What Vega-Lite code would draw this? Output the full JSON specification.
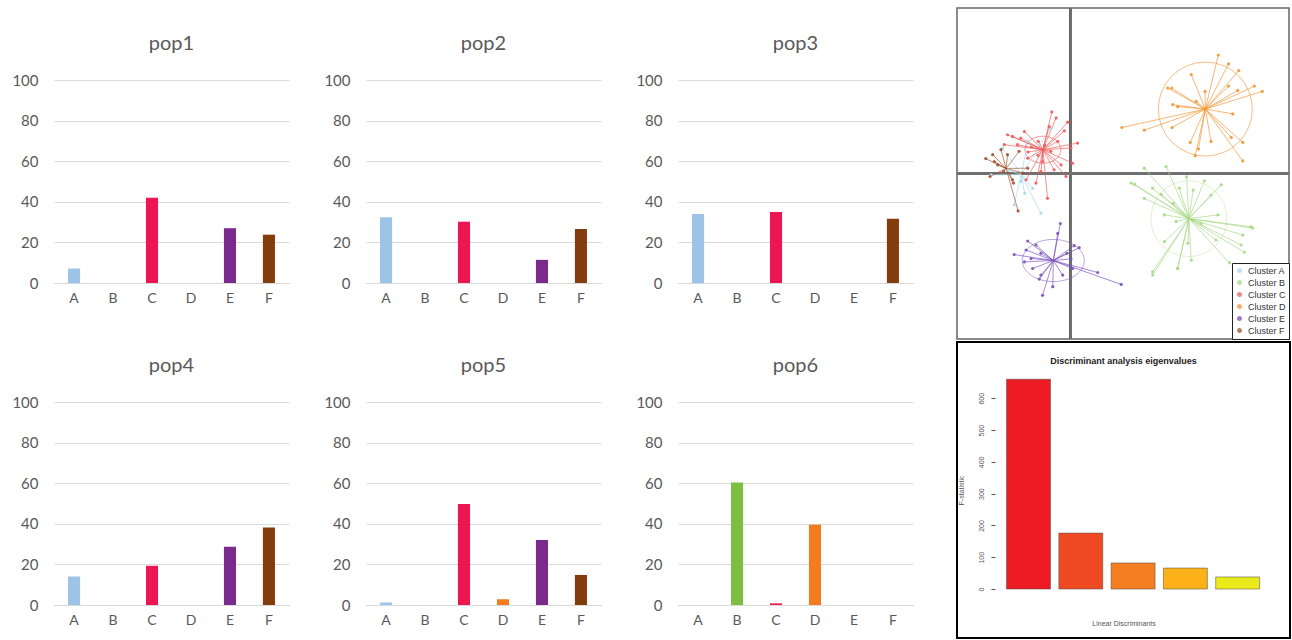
{
  "$schema": "https://vega.github.io/schema/vega-lite/v6.json",
  "background": "white",
  "padding": {"left": 11, "top": 2, "right": 0, "bottom": 0},
  "config": {
    "view": {"stroke": null},
    "font": "Lato",
    "title": {"fontSize": 20, "color": "#595959", "fontWeight": "normal", "font": "Lato", "offset": 19},
    "axisX": {"title": null, "labelAngle": 0, "labelFontSize": 14, "labelColor": "#595959", "ticks": false, "domainColor": "#d9d9d9", "labelPadding": 8},
    "axisY": {"title": null, "labelFontSize": 15, "labelColor": "#595959", "ticks": false, "domain": false, "gridColor": "#d9d9d9", "labelPadding": 16},
    "range": {"category": ["#9dc3e6", "#7cbf42", "#ed1651", "#f37b20", "#7a2a8c", "#833c0b"]}
  },
  "datasets": {
    "pops": [
      {"pop": "pop1", "cl": "A", "v": 7.2}, {"pop": "pop1", "cl": "B", "v": 0}, {"pop": "pop1", "cl": "C", "v": 42}, {"pop": "pop1", "cl": "D", "v": 0}, {"pop": "pop1", "cl": "E", "v": 27}, {"pop": "pop1", "cl": "F", "v": 23.8},
      {"pop": "pop2", "cl": "A", "v": 32.4}, {"pop": "pop2", "cl": "B", "v": 0}, {"pop": "pop2", "cl": "C", "v": 30.2}, {"pop": "pop2", "cl": "D", "v": 0}, {"pop": "pop2", "cl": "E", "v": 11.4}, {"pop": "pop2", "cl": "F", "v": 26.6},
      {"pop": "pop3", "cl": "A", "v": 34}, {"pop": "pop3", "cl": "B", "v": 0}, {"pop": "pop3", "cl": "C", "v": 35}, {"pop": "pop3", "cl": "D", "v": 0}, {"pop": "pop3", "cl": "E", "v": 0}, {"pop": "pop3", "cl": "F", "v": 31.7},
      {"pop": "pop4", "cl": "A", "v": 14}, {"pop": "pop4", "cl": "B", "v": 0}, {"pop": "pop4", "cl": "C", "v": 19.3}, {"pop": "pop4", "cl": "D", "v": 0}, {"pop": "pop4", "cl": "E", "v": 28.7}, {"pop": "pop4", "cl": "F", "v": 38.2},
      {"pop": "pop5", "cl": "A", "v": 1.2}, {"pop": "pop5", "cl": "B", "v": 0}, {"pop": "pop5", "cl": "C", "v": 49.7}, {"pop": "pop5", "cl": "D", "v": 2.8}, {"pop": "pop5", "cl": "E", "v": 32}, {"pop": "pop5", "cl": "F", "v": 14.8},
      {"pop": "pop6", "cl": "A", "v": 0}, {"pop": "pop6", "cl": "B", "v": 60.4}, {"pop": "pop6", "cl": "C", "v": 0.8}, {"pop": "pop6", "cl": "D", "v": 39.5}, {"pop": "pop6", "cl": "E", "v": 0}, {"pop": "pop6", "cl": "F", "v": 0}
    ],
    "pts": [
      {"cl": "A", "x": -1.72, "y": -0.95}, {"cl": "A", "x": -0.91, "y": -1.2}, {"cl": "A", "x": -2.07, "y": 0.77}, {"cl": "A", "x": -2.42, "y": -0.04}, {"cl": "A", "x": -1.31, "y": 0.97}, {"cl": "A", "x": -0.61, "y": 1.37}, {"cl": "A", "x": -1.52, "y": -0.24}, {"cl": "A", "x": -1.16, "y": -0.45}, {"cl": "A", "x": -1.9, "y": 0.1}, {"cl": "A", "x": -1.4, "y": -0.6},
      {"cl": "B", "x": 2.22, "y": 0.16}, {"cl": "B", "x": 2.88, "y": 0.21}, {"cl": "B", "x": 1.92, "y": -0.32}, {"cl": "B", "x": 2.47, "y": -0.44}, {"cl": "B", "x": 2.73, "y": -0.63}, {"cl": "B", "x": 3.28, "y": -0.44}, {"cl": "B", "x": 4.04, "y": -0.22}, {"cl": "B", "x": 4.55, "y": -0.34}, {"cl": "B", "x": 4.24, "y": -0.65}, {"cl": "B", "x": 2.83, "y": -1.25}, {"cl": "B", "x": 3.18, "y": -1.45}, {"cl": "B", "x": 3.94, "y": -1.51}, {"cl": "B", "x": 4.45, "y": -1.25}, {"cl": "B", "x": 5.45, "y": -1.61}, {"cl": "B", "x": 5.2, "y": -1.86}, {"cl": "B", "x": 5.15, "y": -2.16}, {"cl": "B", "x": 5.25, "y": -2.38}, {"cl": "B", "x": 4.39, "y": -2.01}, {"cl": "B", "x": 3.64, "y": -2.62}, {"cl": "B", "x": 3.23, "y": -2.87}, {"cl": "B", "x": 2.47, "y": -2.97}, {"cl": "B", "x": 2.83, "y": -2.06}, {"cl": "B", "x": 3.54, "y": -2.11}, {"cl": "B", "x": 2.22, "y": -0.75}, {"cl": "B", "x": 1.82, "y": -0.29}, {"cl": "B", "x": 2.47, "y": -3.07}, {"cl": "B", "x": 3.23, "y": -2.87}, {"cl": "B", "x": 5.5, "y": -1.65}, {"cl": "B", "x": 3.5, "y": -0.1}, {"cl": "B", "x": 3.7, "y": -0.5}, {"cl": "B", "x": 3.1, "y": -0.9}, {"cl": "B", "x": 4.8, "y": -2.7},
      {"cl": "C", "x": -0.58, "y": 1.86}, {"cl": "C", "x": -0.45, "y": 1.68}, {"cl": "C", "x": -0.1, "y": 1.55}, {"cl": "C", "x": -0.66, "y": 1.42}, {"cl": "C", "x": -0.2, "y": 1.29}, {"cl": "C", "x": -1.92, "y": 1.17}, {"cl": "C", "x": -1.77, "y": 1.12}, {"cl": "C", "x": -1.52, "y": 1.07}, {"cl": "C", "x": 0.2, "y": 0.92}, {"cl": "C", "x": 0.0, "y": 0.77}, {"cl": "C", "x": -0.61, "y": 0.67}, {"cl": "C", "x": 0.05, "y": 0.31}, {"cl": "C", "x": -0.3, "y": 0.26}, {"cl": "C", "x": -0.15, "y": -0.09}, {"cl": "C", "x": -0.91, "y": 0.06}, {"cl": "C", "x": -0.71, "y": -0.75}, {"cl": "C", "x": -1.06, "y": -0.29}, {"cl": "C", "x": -1.36, "y": -0.19}, {"cl": "C", "x": -1.62, "y": 0.87}, {"cl": "C", "x": -0.99, "y": 0.97}, {"cl": "C", "x": -0.4, "y": 0.97}, {"cl": "C", "x": -0.86, "y": 0.36}, {"cl": "C", "x": -1.31, "y": 0.46}, {"cl": "C", "x": -2.02, "y": 0.87}, {"cl": "C", "x": -0.51, "y": 0.11}, {"cl": "C", "x": -1.41, "y": 1.27}, {"cl": "C", "x": -1.2, "y": 0.8}, {"cl": "C", "x": -1.0, "y": 0.55}, {"cl": "C", "x": -1.3, "y": 0.65}, {"cl": "C", "x": -0.8, "y": 0.85},
      {"cl": "D", "x": 4.46, "y": 3.58}, {"cl": "D", "x": 4.77, "y": 3.31}, {"cl": "D", "x": 5.08, "y": 3.11}, {"cl": "D", "x": 3.64, "y": 2.99}, {"cl": "D", "x": 5.55, "y": 2.64}, {"cl": "D", "x": 5.79, "y": 2.48}, {"cl": "D", "x": 5.05, "y": 2.51}, {"cl": "D", "x": 4.77, "y": 2.64}, {"cl": "D", "x": 2.93, "y": 2.58}, {"cl": "D", "x": 3.05, "y": 2.58}, {"cl": "D", "x": 4.06, "y": 2.48}, {"cl": "D", "x": 3.08, "y": 2.08}, {"cl": "D", "x": 3.23, "y": 2.02}, {"cl": "D", "x": 3.79, "y": 2.18}, {"cl": "D", "x": 4.9, "y": 1.8}, {"cl": "D", "x": 1.54, "y": 1.39}, {"cl": "D", "x": 2.22, "y": 1.31}, {"cl": "D", "x": 3.06, "y": 1.39}, {"cl": "D", "x": 4.85, "y": 1.09}, {"cl": "D", "x": 5.2, "y": 0.94}, {"cl": "D", "x": 3.61, "y": 0.94}, {"cl": "D", "x": 3.86, "y": 0.74}, {"cl": "D", "x": 3.76, "y": 0.54}, {"cl": "D", "x": 5.2, "y": 0.38}, {"cl": "D", "x": 4.24, "y": 0.97},
      {"cl": "E", "x": -0.32, "y": -1.51}, {"cl": "E", "x": -0.4, "y": -1.81}, {"cl": "E", "x": -1.31, "y": -2.04}, {"cl": "E", "x": -1.06, "y": -2.16}, {"cl": "E", "x": -1.72, "y": -2.45}, {"cl": "E", "x": -1.36, "y": -2.31}, {"cl": "E", "x": -0.91, "y": -2.41}, {"cl": "E", "x": 0.1, "y": -2.18}, {"cl": "E", "x": 0.25, "y": -2.24}, {"cl": "E", "x": -0.12, "y": -2.41}, {"cl": "E", "x": 0.0, "y": -2.58}, {"cl": "E", "x": -1.41, "y": -2.67}, {"cl": "E", "x": -1.16, "y": -2.87}, {"cl": "E", "x": -0.91, "y": -3.07}, {"cl": "E", "x": -0.96, "y": -3.19}, {"cl": "E", "x": -0.55, "y": -3.42}, {"cl": "E", "x": -0.86, "y": -3.68}, {"cl": "E", "x": -0.25, "y": -3.07}, {"cl": "E", "x": 0.05, "y": -2.87}, {"cl": "E", "x": 1.52, "y": -3.35}, {"cl": "E", "x": 0.81, "y": -2.99}, {"cl": "E", "x": -1.21, "y": -2.57},
      {"cl": "F", "x": -2.58, "y": 0.45}, {"cl": "F", "x": -2.37, "y": 0.57}, {"cl": "F", "x": -2.45, "y": -0.09}, {"cl": "F", "x": -2.12, "y": 0.72}, {"cl": "F", "x": -2.04, "y": 0.06}, {"cl": "F", "x": -1.77, "y": -0.19}, {"cl": "F", "x": -1.74, "y": -0.29}, {"cl": "F", "x": -1.6, "y": -1.13}, {"cl": "F", "x": -2.22, "y": 0.26}, {"cl": "F", "x": -1.31, "y": 0.16}, {"cl": "F", "x": -1.92, "y": 0.57}, {"cl": "F", "x": -1.57, "y": 0.67}, {"cl": "F", "x": -2.32, "y": 0.36}, {"cl": "F", "x": -1.46, "y": 0.01}
    ],
    "eig": [
      {"ld": "1", "f": 660}, {"ld": "2", "f": 176}, {"ld": "3", "f": 82}, {"ld": "4", "f": 66}, {"ld": "5", "f": 38}
    ]
  },
  "resolve": {"scale": {"color": "independent"}},
  "spacing": 42,
  "hconcat": [
    {
      "data": {"name": "pops"},
      "spacing": 20,
      "vconcat": [
        {"width": 10, "height": 1, "mark": {"type": "text", "text": ""}},
        {
          "spacing": 51,
          "vconcat": [
            {
              "spacing": 34,
              "hconcat": [
                {"width": 235, "height": 203, "title": "pop1", "transform": [{"filter": "datum.pop == 'pop1'"}], "mark": "bar",
                 "encoding": {"x": {"field": "cl", "type": "nominal", "scale": {"paddingInner": 0.69, "paddingOuter": 0.36}}, "y": {"field": "v", "type": "quantitative", "scale": {"domain": [0, 100]}, "axis": {"values": [0, 20, 40, 60, 80, 100]}}, "color": {"field": "cl", "type": "nominal", "legend": null}}},
                {"width": 235, "height": 203, "title": "pop2", "transform": [{"filter": "datum.pop == 'pop2'"}], "mark": "bar",
                 "encoding": {"x": {"field": "cl", "type": "nominal", "scale": {"paddingInner": 0.69, "paddingOuter": 0.36}}, "y": {"field": "v", "type": "quantitative", "scale": {"domain": [0, 100]}, "axis": {"values": [0, 20, 40, 60, 80, 100]}}, "color": {"field": "cl", "type": "nominal", "legend": null}}},
                {"width": 235, "height": 203, "title": "pop3", "transform": [{"filter": "datum.pop == 'pop3'"}], "mark": "bar",
                 "encoding": {"x": {"field": "cl", "type": "nominal", "scale": {"paddingInner": 0.69, "paddingOuter": 0.36}}, "y": {"field": "v", "type": "quantitative", "scale": {"domain": [0, 100]}, "axis": {"values": [0, 20, 40, 60, 80, 100]}}, "color": {"field": "cl", "type": "nominal", "legend": null}}}
              ]
            },
            {
              "spacing": 34,
              "hconcat": [
                {"width": 235, "height": 203, "title": "pop4", "transform": [{"filter": "datum.pop == 'pop4'"}], "mark": "bar",
                 "encoding": {"x": {"field": "cl", "type": "nominal", "scale": {"paddingInner": 0.69, "paddingOuter": 0.36}}, "y": {"field": "v", "type": "quantitative", "scale": {"domain": [0, 100]}, "axis": {"values": [0, 20, 40, 60, 80, 100]}}, "color": {"field": "cl", "type": "nominal", "legend": null}}},
                {"width": 235, "height": 203, "title": "pop5", "transform": [{"filter": "datum.pop == 'pop5'"}], "mark": "bar",
                 "encoding": {"x": {"field": "cl", "type": "nominal", "scale": {"paddingInner": 0.69, "paddingOuter": 0.36}}, "y": {"field": "v", "type": "quantitative", "scale": {"domain": [0, 100]}, "axis": {"values": [0, 20, 40, 60, 80, 100]}}, "color": {"field": "cl", "type": "nominal", "legend": null}}},
                {"width": 235, "height": 203, "title": "pop6", "transform": [{"filter": "datum.pop == 'pop6'"}], "mark": "bar",
                 "encoding": {"x": {"field": "cl", "type": "nominal", "scale": {"paddingInner": 0.69, "paddingOuter": 0.36}}, "y": {"field": "v", "type": "quantitative", "scale": {"domain": [0, 100]}, "axis": {"values": [0, 20, 40, 60, 80, 100]}}, "color": {"field": "cl", "type": "nominal", "legend": null}}}
              ]
            }
          ]
        }
      ]
    },
    {
      "spacing": 0,
      "resolve": {"scale": {"color": "independent"}},
      "vconcat": [
        {
          "width": 332,
          "height": 331,
          "view": {"stroke": "#666666", "strokeWidth": 1.5},
          "data": {"name": "pts"},
          "layer": [
            {
              "mark": {"type": "rule", "color": "#707070", "strokeWidth": 2},
              "encoding": {"x": {"datum": 0, "type": "quantitative"}}
            },
            {
              "mark": {"type": "rule", "color": "#707070", "strokeWidth": 2},
              "encoding": {"y": {"datum": 0, "type": "quantitative"}}
            },
            {
              "transform": [{"filter": "datum.cl == 'D'"}, {"aggregate": [{"op": "mean", "field": "x", "as": "cx"}, {"op": "mean", "field": "y", "as": "cy"}], "groupby": ["cl"]}],
              "mark": {"type": "point", "shape": "circle", "filled": false, "size": 8836, "strokeWidth": 1, "opacity": 0.6, "color": "#f39331"},
              "encoding": {"x": {"field": "cx", "type": "quantitative"}, "y": {"field": "cy", "type": "quantitative"}}
            },
            {
              "transform": [{"filter": "datum.cl == 'B'"}, {"aggregate": [{"op": "mean", "field": "x", "as": "cx"}, {"op": "mean", "field": "y", "as": "cy"}], "groupby": ["cl"]}],
              "mark": {"type": "point", "shape": "circle", "filled": false, "size": 5776, "strokeWidth": 1, "opacity": 0.5, "color": "#c9e3a0"},
              "encoding": {"x": {"field": "cx", "type": "quantitative"}, "y": {"field": "cy", "type": "quantitative"}}
            },
            {
              "transform": [{"filter": "datum.cl == 'C'"}, {"aggregate": [{"op": "mean", "field": "x", "as": "cx"}, {"op": "mean", "field": "y", "as": "cy"}], "groupby": ["cl"]}],
              "mark": {"type": "point", "shape": "M -1 0 A 1 0.75 0 1 1 1 0 A 1 0.75 0 1 1 -1 0 Z", "filled": false, "size": 1300, "strokeWidth": 1, "opacity": 0.6, "color": "#f05a5a"},
              "encoding": {"x": {"field": "cx", "type": "quantitative"}, "y": {"field": "cy", "type": "quantitative"}}
            },
            {
              "transform": [{"filter": "datum.cl == 'E'"}, {"aggregate": [{"op": "mean", "field": "x", "as": "cx"}, {"op": "mean", "field": "y", "as": "cy"}], "groupby": ["cl"]}],
              "mark": {"type": "point", "shape": "M -1 0 A 1 0.68 0 1 1 1 0 A 1 0.68 0 1 1 -1 0 Z", "filled": false, "size": 3844, "strokeWidth": 1, "opacity": 0.6, "color": "#8a66c8"},
              "encoding": {"x": {"field": "cx", "type": "quantitative"}, "y": {"field": "cy", "type": "quantitative"}}
            },
            {
              "transform": [{"joinaggregate": [{"op": "mean", "field": "x", "as": "cx"}, {"op": "mean", "field": "y", "as": "cy"}], "groupby": ["cl"]}],
              "mark": {"type": "rule", "strokeWidth": 0.9, "opacity": 0.75},
              "encoding": {
                "x": {"field": "x", "type": "quantitative"},
                "y": {"field": "y", "type": "quantitative"},
                "x2": {"field": "cx"},
                "y2": {"field": "cy"},
                "color": {"field": "cl", "type": "nominal"}
              }
            },
            {
              "mark": {"type": "point", "filled": true, "size": 10, "opacity": 0.9},
              "encoding": {
                "x": {"field": "x", "type": "quantitative", "axis": null, "scale": {"domain": [-3.45, 6.6], "nice": false, "zero": false}},
                "y": {"field": "y", "type": "quantitative", "axis": null, "scale": {"domain": [-5, 5], "nice": false, "zero": false}},
                "color": {
                  "field": "cl", "type": "nominal",
                  "scale": {"domain": ["A", "B", "C", "D", "E", "F"], "range": ["#a9d8ea", "#a6d884", "#f05a5a", "#f39331", "#7a4fbf", "#a0522d"]},
                  "legend": {
                    "title": null, "orient": "bottom-right", "offset": 0,
                    "fillColor": "white", "strokeColor": "#222222", "padding": 3,
                    "labelFontSize": 9, "labelFont": "Liberation Sans", "labelColor": "#333333",
                    "symbolSize": 12, "symbolType": "circle", "rowPadding": 1,
                    "labelExpr": "'Cluster ' + datum.label"
                  }
                }
              }
            }
          ]
        },
        {
          "width": 333,
          "height": 296,
          "view": {"stroke": "black", "strokeWidth": 2},
          "data": {"name": "eig"},
          "title": {"text": "Discriminant analysis eigenvalues", "font": "Liberation Sans", "fontSize": 9, "fontWeight": "bold", "color": "#222222", "offset": -24, "anchor": "middle"},
          "mark": {"type": "bar", "stroke": "#444444", "strokeWidth": 0.5},
          "encoding": {
            "x": {
              "field": "ld", "type": "nominal",
              "scale": {"paddingInner": 0.16, "paddingOuter": 0.764, "align": 0.62},
              "axis": {"title": "Linear Discriminants", "labels": false, "ticks": false, "domain": false, "offset": -19, "titlePadding": 0, "titleFont": "Liberation Sans", "titleFontSize": 7, "titleFontWeight": "normal", "titleColor": "#555555"}
            },
            "y": {
              "field": "f", "type": "quantitative",
              "scale": {"domain": [-154, 777], "nice": false, "zero": false},
              "axis": {"title": "F-statistic", "values": [0, 100, 200, 300, 400, 500, 600], "grid": false, "domain": false, "ticks": true, "offset": -38, "tickSize": 4, "tickColor": "#555555", "labelAngle": -90, "labelAlign": "center", "labelBaseline": "bottom", "labelFont": "Liberation Sans", "labelFontSize": 7, "labelColor": "#555555", "labelPadding": 7, "titleFont": "Liberation Sans", "titleFontSize": 7, "titleFontWeight": "normal", "titleColor": "#555555", "titlePadding": 13}
            },
            "color": {
              "field": "ld", "type": "nominal",
              "scale": {"domain": ["1", "2", "3", "4", "5"], "range": ["#ed1c24", "#f04a23", "#f57f20", "#fbb117", "#eaea1a"]},
              "legend": null
            }
          }
        }
      ]
    }
  ]
}
